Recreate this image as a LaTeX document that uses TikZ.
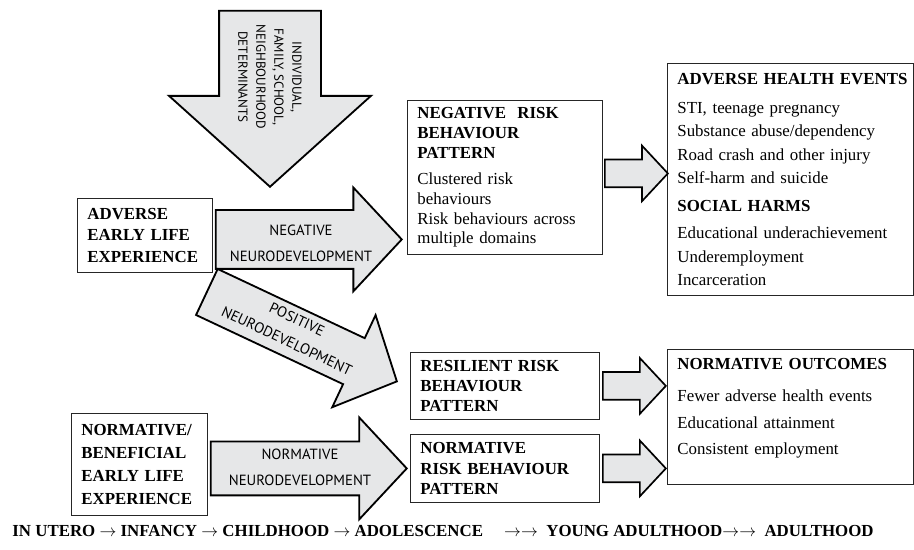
\documentclass[tikz,border=0pt]{standalone}
\usepackage{fontspec}
\setmainfont{Liberation Serif}
\newfontfamily\arrowfont{PT Sans}
\usetikzlibrary{shapes.arrows}
\definecolor{arrowgrey}{HTML}{E6E7E8}

\begin{document}
\begin{tikzpicture}
    \tikzset{box/.style=      {draw=black!85,
                               line width=0.6pt,
                               rectangle,
                               anchor=north west,
                               align=left,
                               inner xsep=0.25cm,
                               inner ysep=0pt},
             bigarrow/.style= {single arrow,
                               draw,
                               fill=arrowgrey,
                               line width=1.3pt,
                               anchor=tip,
                               inner xsep=0pt,
                               inner ysep=0.675cm,
                               single arrow head extend=0.6cm,
                               single arrow tip angle=94},
             smallarrow/.style={bigarrow,
                               line width=1.2pt,
                               inner ysep=0.325cm,
                               single arrow head extend=0.35cm,
                               minimum height=1.575cm},
             arrowtext/.style={font=\arrowfont\fontsize{10.5}{18.5}\selectfont,
                               align=center},
            }
    \useasboundingbox (0,0) rectangle (22.85,13.725);
    \path
    (1.925,8.775)  node[box, text width=2.875cm, minimum height=1.85cm,
                        font=\fontsize{12}{15}\selectfont] (adv)
                   {\textbf{ADVERSE}\\ \textbf{EARLY LIFE}\\ \textbf{EXPERIENCE}}
    (10.175,11.225) node[box, text width=4.375cm, minimum height=3.85cm,
                        font=\fontsize{12}{14}\selectfont] (neg)
                   {\textbf{NEGATIVE~ RISK}\\ \textbf{BEHAVIOUR}\\ \textbf{PATTERN}\\[5pt]
                    Clustered risk\\ behaviours\\ Risk behaviours across\\ multiple domains}
    (16.675,12.15) node[box, text width=5.65cm, minimum height=5.8cm,
                        font=\fontsize{12}{16.7}\selectfont] (harm)
                   {\mbox{\textbf{ADVERSE HEALTH EVENTS}}\\[4pt]
                    STI, teenage pregnancy\\ Substance abuse/dependency\\
                    Road crash and other injury\\ Self-harm and suicide\\[3.3pt]
                    \textbf{SOCIAL HARMS}\\[2.5pt]
                    Educational underachievement\\ Underemployment\\ Incarceration}
    (10.25,4.925)  node[box, text width=4.225cm, minimum height=1.675cm,
                        font=\fontsize{12}{14.5}\selectfont] (res)
                   {\textbf{RESILIENT RISK}\\ \textbf{BEHAVIOUR}\\ \textbf{PATTERN}}
    (10.25,2.875)  node[box, text width=4.225cm, minimum height=1.7cm,
                        font=\fontsize{12}{14.5}\selectfont] (nrp)
                   {\textbf{NORMATIVE}\\ \textbf{RISK BEHAVIOUR}\\ \textbf{PATTERN}}
    (16.675,5.0)   node[box, text width=5.65cm, minimum height=3.375cm,
                        font=\fontsize{12}{18.8}\selectfont] (out)
                   {\textbf{NORMATIVE OUTCOMES}\\[4pt]
                    Fewer adverse health events\\ Educational attainment\\
                    Consistent employment\\[-4pt]\mbox{}}
    (1.775,3.4)    node[box, text width=2.9cm, minimum height=2.55cm,
                        font=\fontsize{12}{16.4}\selectfont] (nben)
                   {\textbf{NORMATIVE/}\\ \textbf{BENEFICIAL}\\ \textbf{EARLY LIFE}\\ \textbf{EXPERIENCE}}
    (11.075,0.45)  node[font=\bfseries\fontsize{12}{14}\selectfont] (ages)
                   {IN UTERO $\rightarrow$ INFANCY $\rightarrow$ CHILDHOOD $\rightarrow$
                    ADOLESCENCE \quad$\rightarrow\rightarrow$\ \ YOUNG ADULTHOOD$\rightarrow\rightarrow$\ \ ADULTHOOD}
    ;
    \node[bigarrow, rotate=-90, minimum height=4.4cm, inner ysep=1.25cm,
          single arrow head extend=1.25cm, single arrow tip angle=96] (detarrow) at (6.75,9.025) {};
    \node[bigarrow, minimum height=4.65cm, inner ysep=0.7125cm,
          single arrow head extend=0.5625cm] (negarrow) at ([xshift=-0.1cm,yshift=-0.1cm]neg.west |- adv.east) {};
    \node[bigarrow, rotate=-25.2, minimum height=5.25cm, inner ysep=0.6125cm,
          single arrow head extend=0.6375cm] (posarrow) at ([xshift=-0.3cm,yshift=0.1cm]res.west) {};
    \node[bigarrow, minimum height=4.9cm, inner ysep=0.65cm] (normarrow) at ([xshift=-0.05cm]nrp.west) {};
    \node[smallarrow, anchor=tail] (harmarrow) at ([xshift=0.03cm,yshift=0.1cm]neg.east) {};
    \node[smallarrow] (resarrow) at (out.west |- res.east) {};
    \node[smallarrow] (nrparrow) at (out.west |- nrp.east) {};

    \node[arrowtext, font=\arrowfont\fontsize{9.3}{12.8}\selectfont, rotate=-90] (dettext) at (6.75,11.8)
         {INDIVIDUAL,\\FAMILY, SCHOOL,\\NEIGHBOURHOOD\\DETERMINANTS};
    \node[arrowtext] (negtext) at (7.525,7.65) {NEGATIVE\\NEURODEVELOPMENT};
    \node[arrowtext, font=\arrowfont\fontsize{10.5}{17}\selectfont, rotate=-25.2] (postext) at (7.3,5.475)
         {POSITIVE\\NEURODEVELOPMENT};
    \node[arrowtext] (normtext) at (7.5,2.0375) {NORMATIVE\\NEURODEVELOPMENT};
\end{tikzpicture}
\end{document}
